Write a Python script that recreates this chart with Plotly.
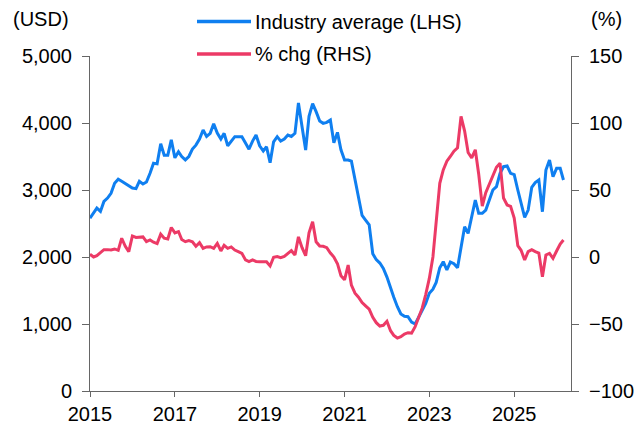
import plotly.graph_objects as go
import pandas as pd

# ---- data (monthly, Jan 2015 - Mar 2026) ----
start_month = "2015-01-01"
industry_avg = [
    2580, 2650, 2730, 2680, 2830, 2880, 2950, 3100, 3160, 3130, 3100, 3060,
    3030, 3020, 3130, 3090, 3120, 3250, 3400, 3390, 3690, 3520, 3520, 3750,
    3480, 3570, 3500, 3450, 3500, 3610, 3670, 3760, 3896, 3800, 3846, 3990,
    3850, 3760, 3846, 3660, 3730, 3796, 3796, 3796, 3700, 3610, 3730, 3821,
    3660, 3582, 3646, 3408, 3720, 3796, 3730, 3760, 3821, 3800, 3846, 4300,
    3945, 3597, 4100, 4290, 4169, 4030, 3995, 4010, 4045, 3706, 3860, 3600,
    3448, 3448, 3430, 3150, 2900, 2620, 2550, 2480, 2050, 1960, 1910, 1830,
    1700, 1530, 1400, 1258, 1150, 1115, 1109, 1030, 1000, 1100, 1200, 1309,
    1460, 1520, 1620, 1840, 1930, 1806, 1925, 1900, 1840, 2154, 2452, 2353,
    2601, 2850, 2652, 2652, 2700, 2850, 3000, 3050, 3249, 3348, 3358, 3249,
    3230, 3000, 2800, 2592, 2701, 3040, 3110, 3149, 2676, 3298, 3448, 3198,
    3323, 3323, 3149,
]
pct_chg = [
    2, 0, 1, 3, 5.5, 5.5, 5.2, 6, 5, 14, 8, 4,
    15.7, 14.6, 14.8, 15, 11.5, 12.7, 11, 10, 17, 14, 13.4, 22,
    18, 19, 13, 11.4, 12.2, 11.4, 8, 10.7, 6.5, 7.5, 7.7, 6.5,
    10.2, 4.5, 8.7, 6.5, 7.5, 5.2, 4, 2.7, -2.2, -3.5, -2.2, -3.3,
    -3.5, -3.5, -3.5, -6.7, -0.2, 0.3, -0.5, 0.5, 2.5, 4.7, 1.5, 15,
    7, 1, 18, 26.3, 11.4, 8.2, 8, 7, 3, 0, -5, -14,
    -17, -6, -21, -27, -30, -34, -36.5, -39, -45, -49, -51.5, -51,
    -48, -55, -58.5, -60.5, -59.5, -57.5, -56.5, -56.8, -52, -45, -38, -28,
    -16, 0, 25, 55, 65, 71.5, 75, 79, 81.5, 105, 94, 78,
    74, 80, 62, 38, 48, 54.5, 59.5, 67, 70, 44, 38.8, 37.8,
    29, 8.5, 5, -2.2, 4, 5.5, 4, 3, -14.7, 1.5, 2.7, -1,
    4.5, 9.7, 12.7,
]
dates = pd.date_range(start_month, periods=len(industry_avg), freq="MS")

series_names = ["Industry average (LHS)", "% chg (RHS)"]
colors = ["#0f7ff0", "#ec3a66"]
left_unit, right_unit = "(USD)", "(%)"
x_range = ["2015-01-01", "2026-05-05"]
x_ticks = ["2015-01-01", "2017-01-01", "2019-01-01", "2021-01-01", "2023-01-01", "2025-01-01"]
x_ticklabels = ["2015", "2017", "2019", "2021", "2023", "2025"]

FONT = "Liberation Sans, Arial, sans-serif"
AX = "#666666"

FIG_W, FIG_H = 637, 428
# plot area in page pixels
L, T, W, H = 90, 56, 481, 335

fig = go.Figure()
fig.add_trace(go.Scatter(x=dates, y=industry_avg, name=series_names[0], mode="lines",
                         line=dict(color=colors[0], width=3), yaxis="y"))
fig.add_trace(go.Scatter(x=dates, y=pct_chg, name=series_names[1], mode="lines",
                         line=dict(color=colors[1], width=3), yaxis="y2"))

def px(xp): return (xp - L) / W
def py(yp): return (T + H - yp) / H

shapes, annotations = [], []
for i, (nm, c) in enumerate(zip(series_names, colors)):
    yy = py(21.5 + 32.5 * i)
    shapes.append(dict(type="line", xref="paper", yref="paper", x0=px(197), x1=px(251),
                       y0=yy, y1=yy, line=dict(color=c, width=3.5)))
    annotations.append(dict(text=nm, xref="paper", yref="paper", x=px(253), y=yy,
                            xanchor="left", yanchor="middle", showarrow=False,
                            font=dict(size=20, color="#000000", family=FONT)))
annotations.append(dict(text=left_unit, xref="paper", yref="paper", x=px(41), y=py(19),
                        xanchor="center", yanchor="middle", showarrow=False,
                        font=dict(size=20, color="#000000", family=FONT)))
annotations.append(dict(text=right_unit, xref="paper", yref="paper", x=px(606), y=py(19),
                        xanchor="center", yanchor="middle", showarrow=False,
                        font=dict(size=20, color="#000000", family=FONT)))

fig.update_layout(
    width=FIG_W, height=FIG_H, autosize=False,
    margin=dict(l=L, r=FIG_W - (L + W), t=T, b=FIG_H - (T + H), autoexpand=False),
    paper_bgcolor="white", plot_bgcolor="white",
    showlegend=False, hovermode=False,
    font=dict(family=FONT, size=20, color="#000000"),
    shapes=shapes, annotations=annotations,
    xaxis=dict(type="date", range=x_range, tickvals=x_ticks, ticktext=x_ticklabels,
               showgrid=False, zeroline=False, showline=True, linecolor=AX, linewidth=1,
               ticks="outside", ticklen=5, tickcolor=AX, tickfont=dict(size=20)),
    yaxis=dict(range=[0, 5000], dtick=1000, tickformat=",", showgrid=False, zeroline=False,
               showline=True, linecolor=AX, linewidth=1, ticks="outside", ticklen=7,
               tickcolor=AX, ticklabelstandoff=6, tickfont=dict(size=20)),
    yaxis2=dict(range=[-100, 150], dtick=50, overlaying="y", side="right", showgrid=False,
                zeroline=False, showline=True, linecolor=AX, linewidth=1, ticks="outside",
                ticklen=7, tickcolor=AX, ticklabelstandoff=6, tickfont=dict(size=20)),
)

fig.write_html(
    "out.html",
    config={"displayModeBar": False, "staticPlot": True},
    post_script="document.body.style.margin='0';document.body.style.padding='0';"
                "document.body.style.overflow='hidden';"
                "document.documentElement.style.overflow='hidden';",
)
